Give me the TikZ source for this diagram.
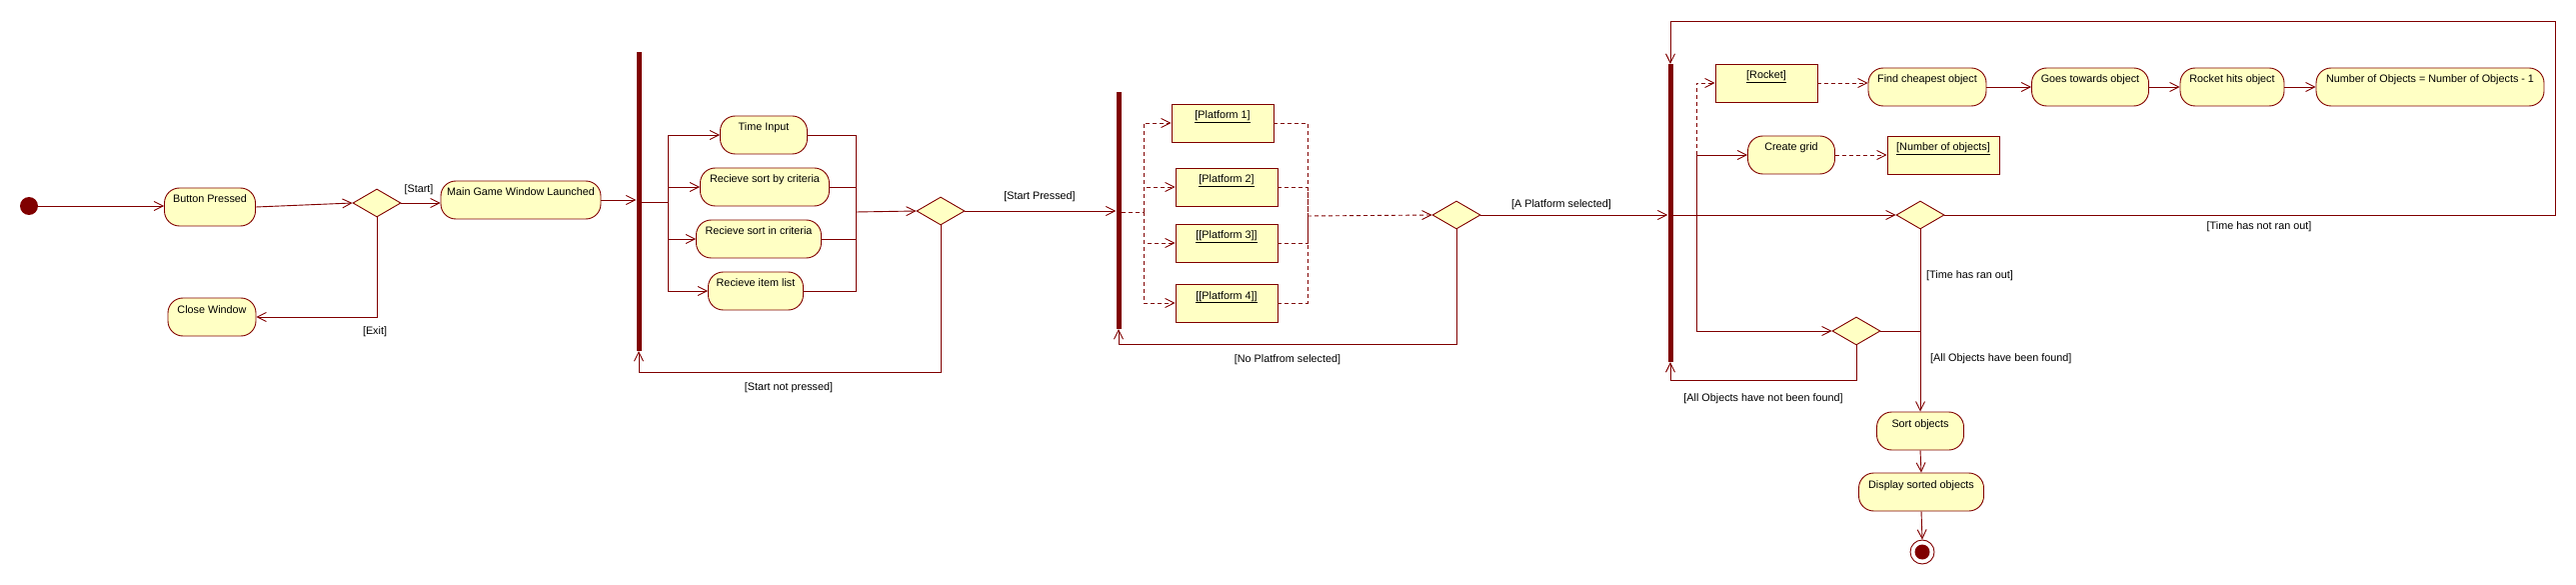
\documentclass[tikz,border=0pt]{standalone}
\usepackage{fontspec}
\setmainfont{Liberation Sans}
\usetikzlibrary{arrows.meta,shapes.geometric,calc}
\definecolor{umlline}{RGB}{128,0,0}
\definecolor{umlfill}{RGB}{255,255,196}
\begin{document}
\begin{tikzpicture}[x=1pt,y=-1pt,
  txt/.style={font=\fontsize{10.8}{13}\selectfont},
  action/.style={txt,draw=umlline,fill=umlfill,line width=0.9pt,rounded corners=15pt,
    minimum height=38pt,inner xsep=2pt,inner ysep=0pt,text height=8pt,text depth=16pt},
  objbox/.style={txt,draw=umlline,fill=umlfill,line width=0.9pt,rectangle,
    minimum height=38pt,inner xsep=2pt,inner ysep=0pt,text height=8pt,text depth=16pt},
  decision/.style={diamond,draw=umlline,fill=umlfill,line width=0.9pt,inner sep=0pt,
    minimum width=48pt,minimum height=28pt},
  syncbar/.style={rectangle,fill=umlline,draw=none,inner sep=0pt,minimum width=5pt},
  flow/.style={draw=umlline,line width=0.9pt,-{Straight Barb[length=9pt,width=9pt]}},
  dflow/.style={flow,dash pattern=on 4pt off 3pt},
  plain/.style={draw=umlline,line width=0.9pt},
  dplain/.style={plain,dash pattern=on 4pt off 3pt},
  guard/.style={txt,inner sep=0pt}]
\useasboundingbox (0,0) rectangle (2577,585);

% ---- nodes ----
\node[circle,fill=umlline,minimum size=18pt,inner sep=0pt] (init) at (29,206) {};
\node[action,minimum width=91pt] (bp) at (210,207) {Button Pressed};
\node[decision] (d1) at (377,203) {};
\node[action,minimum width=160pt] (mgw) at (521,200) {Main Game Window Launched};
\node[action,minimum width=88pt] (cw) at (212,317) {Close Window};
\node[syncbar,minimum height=299pt] (bar1) at (639,201.5) {};
\node[action,minimum width=87pt] (ti) at (764,135) {Time Input};
\node[action,minimum width=129pt] (rsb) at (765,187) {Recieve sort by criteria};
\node[action,minimum width=125pt] (rsi) at (759,239) {Recieve sort in criteria};
\node[action,minimum width=95pt] (ril) at (756,291) {Recieve item list};
\node[decision] (d2) at (941,211) {};
\node[syncbar,minimum height=237pt] (bar2) at (1119,210.5) {};
\node[objbox,minimum width=102pt] (p1) at (1223,123) {\underline{[Platform 1]}};
\node[objbox,minimum width=102pt] (p2) at (1227,187) {\underline{[Platform 2]}};
\node[objbox,minimum width=102pt] (p3) at (1227,243) {\underline{[[Platform 3]]}};
\node[objbox,minimum width=102pt] (p4) at (1227,303) {\underline{[[Platform 4]]}};
\node[decision] (d3) at (1457,215) {};
\node[syncbar,minimum height=298pt] (bar3) at (1671,213) {};
\node[objbox,minimum width=102pt] (rocket) at (1767,83) {\underline{[Rocket]}};
\node[action,minimum width=87pt] (cg) at (1792,155) {Create grid};
\node[objbox,minimum width=112pt] (noo) at (1944,155) {\underline{[Number of objects]}};
\node[action,minimum width=118pt] (fco) at (1928,87) {Find cheapest object};
\node[action,minimum width=117pt] (gto) at (2091,87) {Goes towards object};
\node[action,minimum width=104pt] (rho) at (2233,87) {Rocket hits object};
\node[action,minimum width=228pt] (nmo) at (2431,87) {Number of Objects = Number of Objects - 1};
\node[decision] (d4) at (1921,215) {};
\node[decision] (d5) at (1857,331) {};
\node[action,minimum width=87pt] (so) at (1921,431) {Sort objects};
\node[action,minimum width=125pt] (dso) at (1922,492) {Display sorted objects};
\node[circle,draw=umlline,fill=white,line width=0.9pt,minimum size=24pt,inner sep=0pt] (final) at (1923,552) {};
\node[circle,fill=umlline,minimum size=15pt,inner sep=0pt] (finalc) at (final) {};

% ---- helper coordinates ----
\coordinate (fk1) at (668,202);
\coordinate (jn1) at (856,212);
\coordinate (lp1) at (941,372);
\coordinate (fk2) at (1144,212);
\coordinate (jn2) at (1308,216);
\coordinate (lp2) at (1457,344);
\coordinate (fk3) at (1697,215);
\coordinate (fk3b) at (1697,155);
\coordinate (lp3a) at (2556,215);
\coordinate (lp3b) at (2556,21);
\coordinate (lp4) at (1857,380);

% ---- connectors ----
\draw[flow] (init.east) -- (init.east -| bp.west);
\draw[flow] (bp.east) -- (d1.west);
\draw[flow] (d1.east) -- (d1.east -| mgw.west);
\draw[flow] (d1.south) |- (cw.east);
\draw[flow] (mgw.east) -- (mgw.east -| bar1.west);

\draw[plain] (bar1.east |- fk1) -- (fk1);
\draw[flow] (fk1) |- (ti.west);
\draw[flow] (fk1) |- (rsb.west);
\draw[flow] (fk1) |- (rsi.west);
\draw[flow] (fk1) |- (ril.west);
\draw[plain] (ti.east) -| (jn1);
\draw[plain] (rsb.east) -| (jn1);
\draw[plain] (rsi.east) -| (jn1);
\draw[plain] (ril.east) -| (jn1);
\draw[flow] (jn1) -- (d2.west);

\draw[flow] (d2.east) -- (d2.east -| bar2.west);
\draw[flow] (d2.south) -- (lp1) -| (bar1.south);

\draw[dplain] (bar2.east |- fk2) -- (fk2);
\draw[dflow] (fk2) |- (p1.west);
\draw[dflow] (fk2) |- (p2.west);
\draw[dflow] (fk2) |- (p3.west);
\draw[dflow] (fk2) |- (p4.west);
\draw[dplain] (p1.east) -| (jn2);
\draw[dplain] (p2.east) -| (jn2);
\draw[dplain] (p3.east) -| (jn2);
\draw[dplain] (p4.east) -| (jn2);
\draw[dflow] (jn2) -- (d3.west);

\draw[flow] (d3.east) -- (d3.east -| bar3.west);
\draw[flow] (d3.south) -- (lp2) -| (bar2.south);

\draw[flow] (bar3.east |- d4.west) -- (d4.west);
\draw[flow] (fk3) |- (cg.west);
\draw[flow] (fk3) |- (d5.west);
\draw[dflow] (fk3b) |- (rocket.west);
\draw[dflow] (rocket.east) -- (rocket.east -| fco.west);
\draw[flow] (fco.east) -- (gto.west);
\draw[flow] (gto.east) -- (rho.west);
\draw[flow] (rho.east) -- (nmo.west);
\draw[dflow] (cg.east) -- (noo.west);

\draw[flow] (d4.east) -- (lp3a) -- (lp3b) -| (bar3.north);
\draw[flow] (d4.south) -- (d4.south |- so.north);
\draw[plain] (d5.east) -- (d5.east -| d4.south);
\draw[flow] (d5.south) -- (lp4) -| (bar3.south);
\draw[flow] (so.south) -- (dso.north);
\draw[flow] (dso.south) -- (final.north);

% ---- guards ----
\node[guard] (gstart) at (419,190) {[Start]};
\node[guard] (gexit) at (375,332) {[Exit]};
\node[guard] (gsp) at (1040,197) {[Start Pressed]};
\node[guard] (gsnp) at (789,388) {[Start not pressed]};
\node[guard] (gaps) at (1562,205) {[A Platform selected]};
\node[guard] (gnps) at (1288,360) {[No Platfrom selected]};
\node[guard] (gthnro) at (2260,227) {[Time has not ran out]};
\node[guard,anchor=west] (gthro) at (1927,276) {[Time has ran out]};
\node[guard,anchor=west] (gaohbf) at (1931,359) {[All Objects have been found]};
\node[guard] (gaohnbf) at (1764,399) {[All Objects have not been found]};
\end{tikzpicture}
\end{document}
